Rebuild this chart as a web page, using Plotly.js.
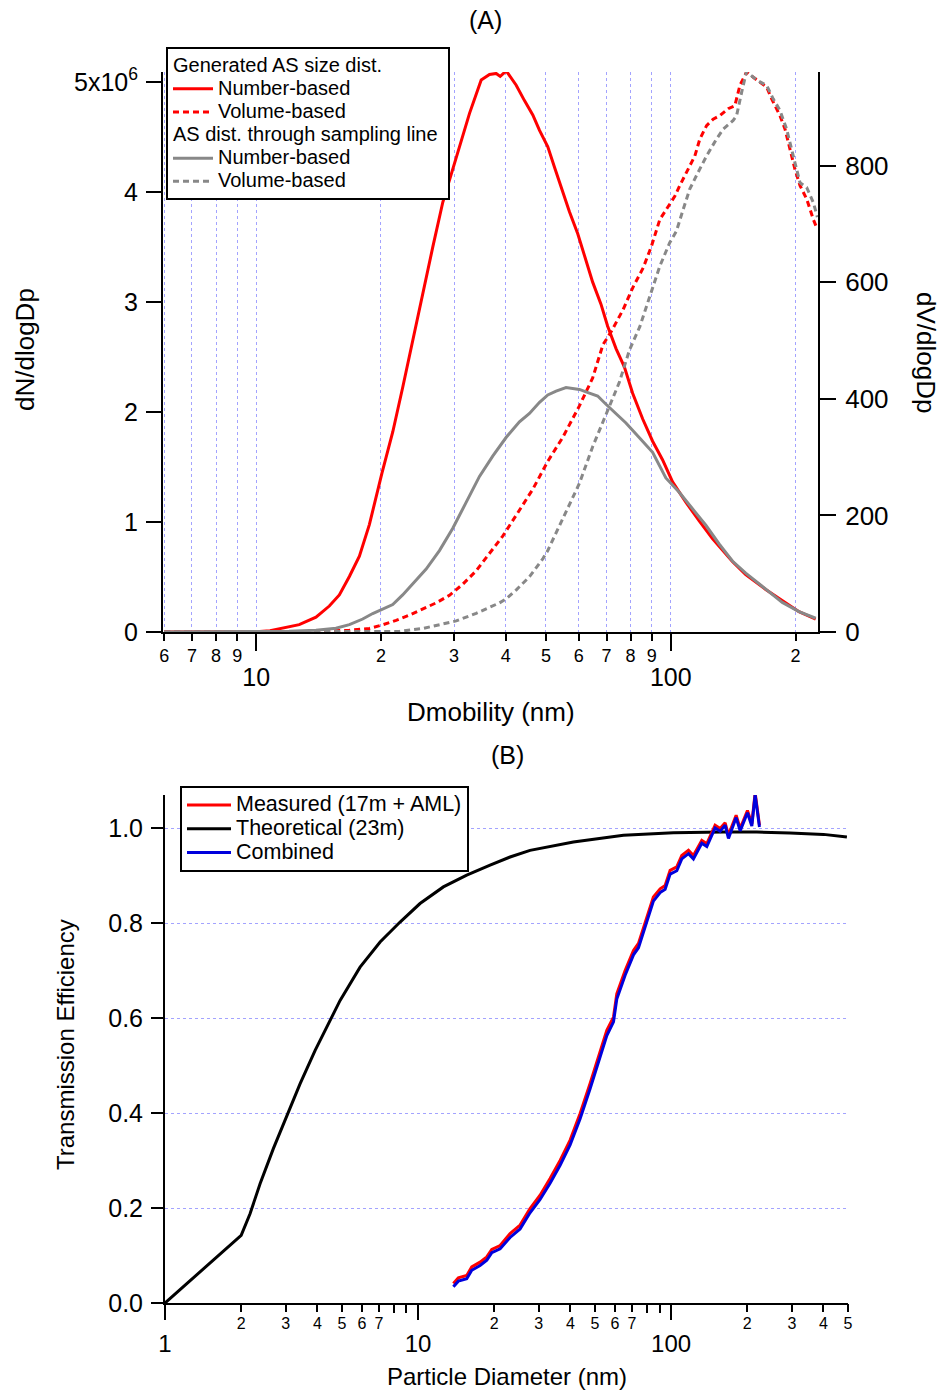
<!DOCTYPE html>
<html><head><meta charset="utf-8">
<script src="https://cdn.plot.ly/plotly-3.0.1.min.js"></script>
<style>html,body{margin:0;padding:0;background:#fff}</style>
</head><body><div id="chart" style="width:945px;height:1391px"></div>
<script>
// ---------- Panel A data ----------
// Generated AS size distribution, number-based (dN/dlogDp, units of 1e6)
const genNumD = [6, 7, 8, 9, 10, 10.8, 11.58, 12.70, 13.94, 15.01, 15.87, 16.78, 17.74, 18.75, 20.12, 21.35, 22.56, 23.86, 25.23, 26.67, 28.19, 29.26, 30.37, 32.70, 34.89, 36.54, 37.92, 38.78, 40.10, 42.38, 44.37, 46.47, 48.24, 50.51, 52.40, 54.39, 56.96, 59.65, 61.88, 64.80, 67.86, 70.43, 73.78, 77.26, 80.91, 85.56, 90.4, 95.5, 101.0, 108.7, 117.1, 126.0, 140.8, 151.6, 169.4, 185.8, 203.8, 223.6];
const genNumN = [0, 0, 0, 0, 0.003, 0.012, 0.034, 0.067, 0.135, 0.236, 0.337, 0.505, 0.69, 0.976, 1.448, 1.818, 2.222, 2.66, 3.098, 3.50, 3.906, 4.108, 4.31, 4.714, 5.017, 5.067, 5.077, 5.05, 5.10, 4.97, 4.83, 4.70, 4.56, 4.41, 4.226, 4.04, 3.82, 3.62, 3.42, 3.18, 2.98, 2.78, 2.576, 2.41, 2.17, 1.936, 1.734, 1.566, 1.364, 1.18, 1.01, 0.85, 0.64, 0.522, 0.387, 0.286, 0.185, 0.118];
// Generated AS size distribution, volume-based (dV/dlogDp)
const genVolD = [6, 10, 14, 16.78, 18.75, 20.12, 21.75, 23.42, 25.23, 27.17, 29.26, 31.5, 33.93, 36.54, 39.36, 42.35, 46.47, 50.51, 54.88, 60.2, 64.8, 68.6, 71.9, 76.7, 81.1, 85.8, 89.8, 94.1, 98.5, 102.3, 105.1, 109.1, 114.3, 117.5, 122.0, 126.5, 131.3, 137.5, 142.7, 146.8, 152.3, 158.1, 165.6, 170.3, 175.1, 183.4, 188.6, 193.9, 199.3, 205.0, 212.7, 220.7, 225.7];
const genVolV = [0, 0, 1, 3, 6, 12, 20, 29, 39, 50, 63, 82, 105, 134, 165, 200, 245, 293, 334, 388, 436, 493, 516, 553, 592, 625, 662, 708, 731, 748, 766, 789, 817, 846, 869, 880, 886, 898, 903, 938, 961, 952, 941, 935, 915, 886, 863, 829, 794, 766, 743, 708, 691];
// AS distribution through sampling line, number-based
const lineNumD = [6, 10, 12, 13.94, 15.57, 16.78, 18.07, 19.10, 20.12, 21.35, 22.56, 23.86, 25.70, 27.67, 29.80, 32.09, 34.56, 37.23, 40.10, 41.6, 43.15, 45.62, 48.24, 50.51, 52.89, 55.89, 60.2, 63.62, 66.63, 69.78, 73.78, 77.96, 83.9, 90.4, 97.3, 104.8, 112.8, 121.5, 130.8, 140.8, 151.6, 169.4, 185.8, 203.8, 223.6];
const lineNumN = [0, 0.001, 0.006, 0.017, 0.034, 0.067, 0.118, 0.168, 0.209, 0.25, 0.337, 0.438, 0.572, 0.74, 0.943, 1.178, 1.414, 1.60, 1.77, 1.84, 1.91, 1.987, 2.088, 2.155, 2.189, 2.222, 2.205, 2.172, 2.145, 2.07, 1.987, 1.90, 1.768, 1.633, 1.40, 1.27, 1.12, 0.97, 0.80, 0.645, 0.535, 0.387, 0.269, 0.185, 0.125];
// AS distribution through sampling line, volume-based
const lineVolD = [6, 15, 22.15, 25.23, 28.19, 30.37, 33.93, 36.54, 38.63, 40.10, 42.35, 45.64, 49.16, 50.51, 54.88, 60.2, 64.8, 69.78, 75.1, 79.6, 84.2, 89.0, 94.1, 99.4, 103.2, 107.1, 111.1, 116.4, 122.0, 128.9, 133.8, 141.4, 144.1, 148.2, 152.3, 158.1, 164.1, 170.3, 176.6, 183.4, 190.3, 197.4, 205.0, 212.7, 220.7, 225.7];
const lineVolV = [0, 0, 1, 6, 13, 19, 32, 42, 50, 57, 72, 95, 126, 140, 195, 255, 318, 372, 428, 485, 524, 576, 628, 668, 688, 725, 760, 789, 817, 846, 863, 878, 886, 926, 962, 952, 944, 938, 915, 895, 863, 817, 771, 763, 737, 712];

// ---------- Panel B data ----------
const measD = [13.79, 14.43, 15.57, 16.30, 17.58, 18.69, 19.56, 21.1, 23.1, 25.3, 27.7, 30.35, 33.24, 36.42, 39.89, 43.69, 47.84, 52.42, 55.7, 59.2, 61.0, 65.8, 71.0, 74.3, 78.9, 85.1, 90.5, 94.7, 99.1, 105.3, 110.2, 117.1, 122.5, 132.2, 138.4, 149.2, 156.2, 163.5, 168.5, 180.7, 187.4, 200.3, 208.4, 214.8, 223.4];
const measT = [0.041, 0.053, 0.058, 0.076, 0.086, 0.097, 0.113, 0.121, 0.146, 0.164, 0.199, 0.227, 0.262, 0.300, 0.343, 0.399, 0.462, 0.532, 0.574, 0.602, 0.651, 0.700, 0.742, 0.757, 0.799, 0.855, 0.872, 0.879, 0.911, 0.918, 0.942, 0.953, 0.942, 0.974, 0.967, 1.006, 0.999, 1.011, 0.985, 1.027, 0.999, 1.037, 1.009, 1.074, 1.006];
const theoD = [1, 2.0, 2.168, 2.375, 2.68, 3.03, 3.42, 3.92, 4.36, 4.92, 5.90, 7.08, 8.49, 10.18, 12.59, 15.57, 19.26, 23.1, 27.7, 41.1, 64.8, 102.1, 161, 218, 295, 400, 495];
const theoT = [0, 0.1425, 0.188, 0.251, 0.325, 0.395, 0.462, 0.532, 0.581, 0.637, 0.707, 0.76, 0.802, 0.841, 0.876, 0.901, 0.922, 0.939, 0.953, 0.9705, 0.9846, 0.990, 0.9916, 0.9916, 0.9895, 0.9866, 0.981];
const combD = measD;
const combT = [0.034, 0.046, 0.051, 0.069, 0.079, 0.090, 0.106, 0.114, 0.138, 0.156, 0.190, 0.218, 0.252, 0.290, 0.333, 0.388, 0.451, 0.521, 0.563, 0.592, 0.640, 0.690, 0.733, 0.748, 0.790, 0.846, 0.864, 0.871, 0.903, 0.910, 0.935, 0.946, 0.935, 0.968, 0.961, 1.000, 0.993, 1.006, 0.978, 1.022, 0.994, 1.032, 1.004, 1.070, 1.002];

// ---------- Tick labels ----------
const topMajorVals = [10, 100];
const topMajorText = ['10', '100'];
const topMinorVals = [6, 7, 8, 9, 20, 30, 40, 50, 60, 70, 80, 90, 200];
const topMinorText = ['6', '7', '8', '9', '2', '3', '4', '5', '6', '7', '8', '9', '2'];
const leftYVals = [0, 1, 2, 3, 4, 5];
const leftYText = ['0', '1', '2', '3', '4', '5x10<sup>6</sup>'];
const rightYVals = [0, 200, 400, 600, 800];
const botMajorVals = [1, 10, 100];
const botMajorText = ['1', '10', '100'];
const botMinorVals = [2, 3, 4, 5, 6, 7, 20, 30, 40, 50, 60, 70, 200, 300, 400, 500];
const botMinorText = ['2', '3', '4', '5', '6', '7', '2', '3', '4', '5', '6', '7', '2', '3', '4', '5'];
const botUnlabeledVals = [8, 9, 80, 90];
const botYVals = [0, 0.2, 0.4, 0.6, 0.8, 1.0];
const botYText = ['0.0', '0.2', '0.4', '0.6', '0.8', '1.0'];

const W = 945, H = 1391;
const FONT = 'Liberation Sans, Arial, sans-serif';
const GRID = '#a3a3ff';
const px = v => v / W;
const py = v => 1 - v / H;
const big = (t, s) => '<span style="font-size:' + s + 'px">' + t + '</span>';

const traces = [
  {x: genNumD, y: genNumN, xaxis: 'x', yaxis: 'y', mode: 'lines', name: big('Number-based', 20),
   line: {color: '#ff0000', width: 3}, legend: 'legend', legendgroup: 'gen',
   legendgrouptitle: {text: big('Generated AS size dist.', 20)}},
  {x: genVolD, y: genVolV, xaxis: 'x', yaxis: 'y2', mode: 'lines', name: big('Volume-based', 20),
   line: {color: '#ff0000', width: 3, dash: '6px,4px'}, legend: 'legend', legendgroup: 'gen'},
  {x: lineNumD, y: lineNumN, xaxis: 'x3', yaxis: 'y', mode: 'lines', name: big('Number-based', 20),
   line: {color: '#888888', width: 3}, legend: 'legend', legendgroup: 'line',
   legendgrouptitle: {text: big('AS dist. through sampling line', 20)}},
  {x: lineVolD, y: lineVolV, xaxis: 'x3', yaxis: 'y2', mode: 'lines', name: big('Volume-based', 20),
   line: {color: '#888888', width: 3, dash: '6px,4px'}, legend: 'legend', legendgroup: 'line'},
  {x: theoD, y: theoT, xaxis: 'x2', yaxis: 'y3', mode: 'lines', name: big('Theoretical (23m)', 21.5),
   line: {color: '#000000', width: 3}, legend: 'legend2', legendrank: 2},
  {x: measD, y: measT, xaxis: 'x4', yaxis: 'y3', mode: 'lines', name: big('Measured (17m + AML)', 21.5),
   line: {color: '#ff0000', width: 3}, legend: 'legend2', legendrank: 1},
  {x: combD, y: combT, xaxis: 'x4', yaxis: 'y3', mode: 'lines', name: big('Combined', 21.5),
   line: {color: '#0000dd', width: 3}, legend: 'legend2', legendrank: 3}
];

const topRange = [Math.log10(5.96), Math.log10(226.5)];
const botRange = [0, Math.log10(500)];
const axBase = {showline: true, linewidth: 2, linecolor: '#000', ticks: 'outside', tickwidth: 2,
  tickcolor: '#000', zeroline: false, tickmode: 'array', fixedrange: true, automargin: false};

const layout = {
  width: W, height: H, margin: {l: 0, r: 0, t: 0, b: 0},
  paper_bgcolor: '#fff', plot_bgcolor: 'rgba(0,0,0,0)',
  font: {family: FONT, color: '#000', size: 18},
  showlegend: true,
  xaxis: Object.assign({}, axBase, {type: 'log', range: topRange, domain: [px(163), px(818)], anchor: 'y',
    tickvals: topMajorVals, ticktext: topMajorText, ticklen: 17, tickfont: {size: 25},
    ticklabelstandoff: 5, showgrid: true, gridcolor: GRID, griddash: 'dot', gridwidth: 1}),
  xaxis3: Object.assign({}, axBase, {type: 'log', range: topRange, domain: [px(163), px(818)], anchor: 'y',
    overlaying: 'x', showline: false, tickvals: topMinorVals, ticktext: topMinorText, ticklen: 8,
    tickfont: {size: 18}, ticklabelstandoff: -1, showgrid: true, gridcolor: GRID, griddash: 'dot', gridwidth: 1}),
  yaxis: Object.assign({}, axBase, {range: [0, 5.09], domain: [py(632), py(72)], anchor: 'x',
    tickvals: leftYVals, ticktext: leftYText, ticklen: 15, tickfont: {size: 25}, ticklabelstandoff: 3,
    showgrid: false}),
  yaxis2: Object.assign({}, axBase, {range: [0, 961], overlaying: 'y', side: 'right', anchor: 'x',
    tickvals: rightYVals, ticklen: 16, tickfont: {size: 26}, ticklabelstandoff: 4, showgrid: false}),
  xaxis2: Object.assign({}, axBase, {type: 'log', range: botRange, domain: [px(165), px(848)], anchor: 'y3',
    tickvals: botMajorVals, ticktext: botMajorText, ticklen: 15, tickfont: {size: 24},
    ticklabelstandoff: 3, showgrid: false,
    minor: {tickmode: 'array', tickvals: botUnlabeledVals, ticks: 'outside', ticklen: 8, tickwidth: 2,
      tickcolor: '#000', showgrid: false}}),
  xaxis4: Object.assign({}, axBase, {type: 'log', range: botRange, domain: [px(165), px(848)], anchor: 'y3',
    overlaying: 'x2', showline: false, tickvals: botMinorVals, ticktext: botMinorText, ticklen: 8,
    tickfont: {size: 16}, ticklabelstandoff: -2, showgrid: false}),
  yaxis3: Object.assign({}, axBase, {range: [0, 1.0695], domain: [py(1303), py(795)], anchor: 'x2',
    tickvals: botYVals, ticktext: botYText, ticklen: 12, tickfont: {size: 25}, ticklabelstandoff: 3,
    showgrid: true, gridcolor: GRID, griddash: 'dot', gridwidth: 1}),
  legend: {x: px(166), y: py(47), xanchor: 'left', yanchor: 'top', bgcolor: '#fff',
    bordercolor: '#000', borderwidth: 2, font: {size: 15.5, color: '#000'}, tracegroupgap: 0,
    traceorder: 'grouped', grouptitlefont: {size: 15.5, color: '#000'}, itemwidth: 40},
  legend2: {x: px(180), y: py(786), xanchor: 'left', yanchor: 'top', bgcolor: '#fff',
    bordercolor: '#000', borderwidth: 2, font: {size: 16, color: '#000'}, traceorder: 'normal',
    itemwidth: 44},
  annotations: [
    {text: '(A)', x: px(485), y: py(20), size: 25},
    {text: 'Dmobility (nm)', x: px(491), y: py(712), size: 26},
    {text: 'dN/dlogDp', x: px(25), y: py(350), size: 26, angle: -90},
    {text: 'dV/dlogDp', x: px(926), y: py(352), size: 26, angle: 90},
    {text: '(B)', x: px(507), y: py(755), size: 25},
    {text: 'Particle Diameter (nm)', x: px(507), y: py(1376), size: 24},
    {text: 'Transmission Efficiency', x: px(65), y: py(1045), size: 24, angle: -90}
  ].map(a => ({text: a.text, x: a.x, y: a.y, xref: 'paper', yref: 'paper', xanchor: 'center',
    yanchor: 'middle', showarrow: false, textangle: a.angle || 0, font: {size: a.size, color: '#000'}}))
};

Plotly.newPlot('chart', traces, layout, {displayModeBar: false, staticPlot: true});
</script>
</body></html>
